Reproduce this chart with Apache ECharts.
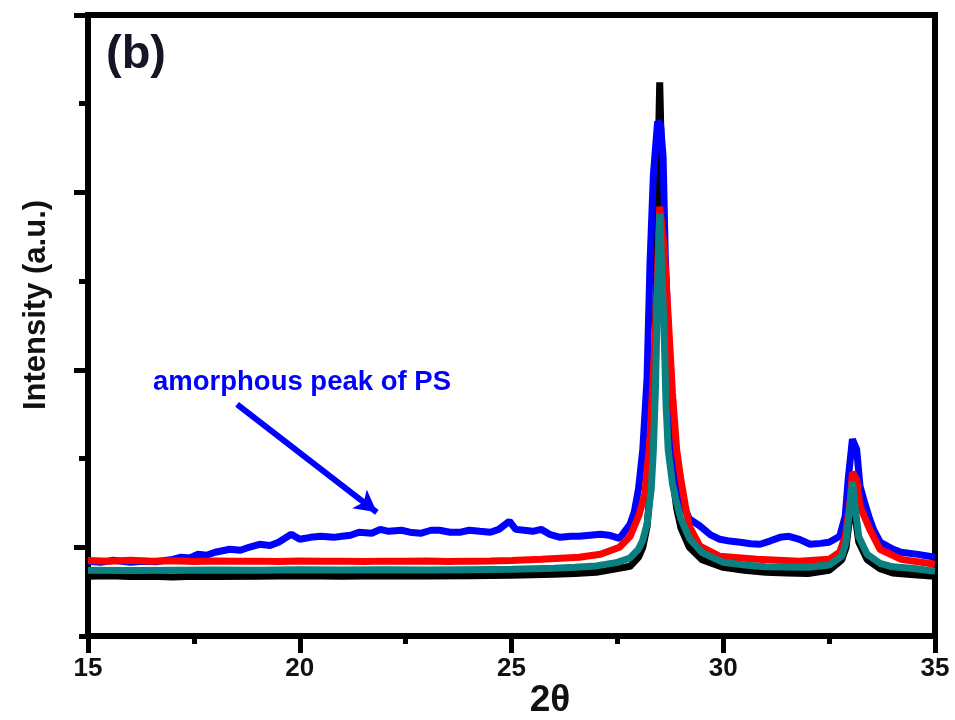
<!DOCTYPE html>
<html>
<head>
<meta charset="utf-8">
<script src="https://cdn.jsdelivr.net/npm/echarts@6/dist/echarts.min.js"></script>
<style>html,body{margin:0;padding:0;background:#fff}#c{width:955px;height:720px}</style>
</head>
<body>
<div id="c"></div>
<script>
// ---- data ----
const xTicks = [15, 20, 25, 30, 35];
const yMajorTicks = [0, 1, 2, 3];
const yMinorTicks = [-0.5, 0.5, 1.5, 2.5];

const blackX = [15,15.5,16,16.5,17,17.5,18,19,20,21,22,23,24,25,26,26.5,27,27.5,27.8,28,28.1,28.2,28.3,28.35,28.4,28.45,28.5,28.55,28.6,28.65,28.7,28.8,28.9,29,29.2,29.5,30,30.5,31,31.5,32,32.5,32.8,32.9,33,33.05,33.1,33.2,33.4,33.7,34,34.5,35];
const blackY = [-0.163,-0.160,-0.165,-0.163,-0.168,-0.163,-0.165,-0.163,-0.160,-0.163,-0.160,-0.162,-0.160,-0.158,-0.152,-0.148,-0.141,-0.120,-0.107,-0.056,0.0,0.115,0.39,0.69,1.23,2.06,2.62,2.10,1.45,0.95,0.66,0.40,0.22,0.11,0.0,-0.07,-0.113,-0.13,-0.141,-0.145,-0.148,-0.13,-0.07,0.0,0.20,0.34,0.20,0.03,-0.07,-0.12,-0.145,-0.155,-0.163];

const blueX = [15,15.3,15.6,16,16.3,16.6,17,17.2,17.4,17.6,17.8,18,18.35,18.6,18.8,19.05,19.3,19.5,19.8,20,20.25,20.5,20.8,21,21.2,21.4,21.7,21.9,22.1,22.4,22.6,22.85,23.1,23.3,23.55,23.8,24,24.25,24.5,24.7,24.95,25.1,25.3,25.5,25.7,25.9,26.15,26.4,26.6,26.85,27.1,27.3,27.55,27.8,27.9,28,28.1,28.2,28.27,28.35,28.45,28.52,28.58,28.63,28.7,28.77,28.85,28.95,29.05,29.2,29.45,29.7,29.92,30.15,30.4,30.65,30.87,31.1,31.34,31.55,31.8,32.05,32.3,32.5,32.75,32.88,32.95,33.05,33.15,33.23,33.35,33.46,33.55,33.7,34,34.2,34.6,35];
const blueY = [-0.079,-0.085,-0.073,-0.085,-0.079,-0.082,-0.068,-0.056,-0.060,-0.039,-0.045,-0.028,-0.011,-0.017,0.000,0.017,0.010,0.028,0.073,0.045,0.056,0.062,0.056,0.062,0.068,0.085,0.079,0.101,0.090,0.096,0.085,0.079,0.096,0.096,0.085,0.085,0.096,0.090,0.085,0.101,0.147,0.101,0.096,0.090,0.101,0.073,0.056,0.062,0.062,0.068,0.073,0.068,0.050,0.130,0.20,0.33,0.55,0.95,1.60,2.10,2.40,2.38,2.20,1.65,1.22,0.87,0.50,0.33,0.24,0.16,0.12,0.07,0.045,0.035,0.028,0.020,0.017,0.035,0.056,0.062,0.045,0.017,0.022,0.028,0.062,0.175,0.383,0.609,0.552,0.344,0.242,0.158,0.10,0.03,-0.01,-0.028,-0.04,-0.056];

const redX = [15,15.5,16,16.5,17,17.5,18,18.5,19,19.5,20,20.5,21,21.5,22,22.5,23,23.5,24,24.5,25,25.7,26.6,27.1,27.55,27.8,28,28.15,28.27,28.4,28.5,28.6,28.7,28.8,28.9,29,29.1,29.2,29.45,29.92,30.8,31.8,32.5,32.75,32.88,33,33.05,33.15,33.23,33.46,33.7,34.2,35];
const redY = [-0.075,-0.079,-0.073,-0.079,-0.076,-0.080,-0.077,-0.079,-0.078,-0.080,-0.077,-0.079,-0.078,-0.080,-0.078,-0.079,-0.077,-0.080,-0.078,-0.077,-0.075,-0.068,-0.056,-0.039,0.0,0.062,0.175,0.30,0.61,1.23,1.92,1.70,1.30,0.87,0.55,0.38,0.24,0.118,0.006,-0.051,-0.068,-0.079,-0.068,-0.028,0.062,0.27,0.423,0.383,0.231,0.101,-0.011,-0.068,-0.096];

const tealX = [15,16,17,18,19,20,21,22,23,24,25,26,26.5,27,27.5,27.8,28,28.1,28.2,28.3,28.35,28.4,28.45,28.5,28.55,28.6,28.65,28.7,28.8,28.9,29,29.2,29.5,30,30.5,31,32,32.5,32.8,32.9,33,33.05,33.1,33.2,33.4,33.7,34,34.5,35];
const tealY = [-0.129,-0.131,-0.129,-0.128,-0.129,-0.127,-0.128,-0.127,-0.128,-0.126,-0.124,-0.118,-0.113,-0.105,-0.085,-0.06,-0.01,0.04,0.13,0.33,0.55,0.90,1.45,1.88,1.55,1.25,0.80,0.55,0.36,0.25,0.16,0.05,-0.03,-0.085,-0.1,-0.11,-0.113,-0.1,-0.05,0.03,0.25,0.37,0.25,0.06,-0.04,-0.09,-0.11,-0.12,-0.135];

const arrowFrom = [18.52, 0.806];
const arrowTo = [21.82, 0.197];

function pairs(xs, ys) { return xs.map((x, i) => [x, ys[i]]); }

const FONT = "'Liberation Sans', Arial, sans-serif";
const chart = echarts.init(document.getElementById('c'), null, {renderer: 'canvas'});

function lineSeries(name, xs, ys, color, extra) {
  return Object.assign({
    name: name, type: 'line', data: pairs(xs, ys), showSymbol: false, symbol: 'none',
    lineStyle: {color: color, width: 7}, itemStyle: {color: color}, silent: true
  }, extra || {});
}

chart.setOption({
  animation: false,
  grid: {left: 88, right: 20, top: 15, bottom: 84, show: true, borderColor: '#000', borderWidth: 6, backgroundColor: 'transparent'},
  xAxis: {
    type: 'value', min: 15, max: 35, interval: 5,
    axisLine: {show: true, onZero: false, lineStyle: {color: '#000', width: 6}},
    axisTick: {show: true, length: 17, inside: false, lineStyle: {color: '#000', width: 5}},
    minorTick: {show: true, splitNumber: 2, length: 8, lineStyle: {color: '#000', width: 5}},
    splitLine: {show: false}, minorSplitLine: {show: false},
    axisLabel: {fontSize: 26, fontWeight: 'bold', color: '#111', margin: 20, fontFamily: FONT,
      customValues: xTicks}
  },
  yAxis: [{
    type: 'value', min: -0.5, max: 3, interval: 0.5, position: 'left',
    axisLine: {show: true, onZero: false, lineStyle: {color: '#000', width: 6}},
    axisTick: {show: true, length: 14, lineStyle: {color: '#000', width: 5}, customValues: yMajorTicks},
    axisLabel: {show: false}, splitLine: {show: false}
  }, {
    type: 'value', min: -0.5, max: 3, interval: 0.5, position: 'left', offset: 0,
    axisLine: {show: false, onZero: false},
    axisTick: {show: true, length: 9, lineStyle: {color: '#000', width: 5}, customValues: yMinorTicks},
    axisLabel: {show: false}, splitLine: {show: false}
  }],
  series: [
    lineSeries('black', blackX, blackY, '#000000'),
    lineSeries('blue', blueX, blueY, '#0000ff', {
      markLine: {
        silent: true, symbol: ['none', 'arrow'], symbolSize: [18, 22],
        lineStyle: {color: '#0000ff', width: 6, type: 'solid'},
        label: {show: false},
        data: [[{coord: arrowFrom}, {coord: arrowTo}]]
      }
    }),
    lineSeries('red', redX, redY, '#ff0000'),
    lineSeries('teal', tealX, tealY, '#0a8080')
  ],
  graphic: [
    {type: 'text', x: 106, y: 32, style: {text: '(b)', font: 'bold 47px ' + FONT, fill: '#151525', textAlign: 'left', textVerticalAlign: 'top'}},
    {type: 'text', x: 36, y: 305, rotation: Math.PI / 2, style: {text: 'Intensity (a.u.)', font: 'bold 31px ' + FONT, fill: '#111', textAlign: 'center', textVerticalAlign: 'middle'}},
    {type: 'text', x: 550, y: 701, style: {text: '2θ', font: 'bold 37px ' + FONT, fill: '#111', textAlign: 'center', textVerticalAlign: 'middle'}},
    {type: 'text', x: 153, y: 382, style: {text: 'amorphous peak of PS', font: 'bold 27.5px ' + FONT, fill: '#0000ff', textAlign: 'left', textVerticalAlign: 'middle'}}
  ]
});
</script>
</body>
</html>
